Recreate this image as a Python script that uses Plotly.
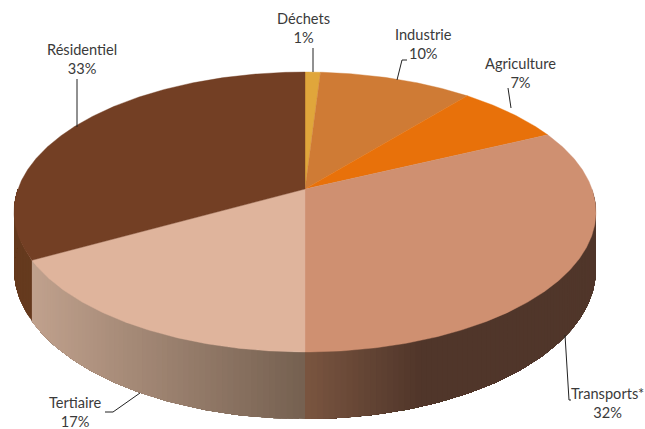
import math
import plotly.graph_objects as go

categories = ["Déchets", "Industrie", "Agriculture", "Transports*", "Tertiaire", "Résidentiel"]
shares = [1, 10, 7, 32, 17, 33]

face_colors = ["#E0A63B", "#CF7B35", "#E8710A", "#CF9071", "#DFB49C", "#733F24"]
# wall gradient per slice, expressed along the horizontal screen position
wall_stops = {
    "Transports*": [(305, (122, 85, 64)), (420, (80, 54, 42)), (600, (80, 54, 42))],
    "Tertiaire": [(33, (192, 161, 141)), (305, (117, 96, 80))],
    "Résidentiel": [(0, (101, 58, 30)), (305, (101, 58, 30))],
}
label_pos = {
    "Déchets": (303, 28), "Industrie": (423, 44), "Agriculture": (520, 73),
    "Transports*": (607, 403), "Tertiaire": (75, 412), "Résidentiel": (82, 59),
}
leaders = [
    ([313, 313], [48, 72]),
    ([407, 402, 397], [60, 60, 80]),
    ([508, 511], [88, 108]),
    ([565, 569, 571], [335, 400, 400]),
    ([105, 113, 140], [412, 412, 393]),
    ([77, 77], [79, 127]),
]

# projection of the tilted disc
CX, CY, A, B, K, DEPTH = 305, 189, 287, 136.2, 0.1643, 56


def project(theta_deg, lowered=False):
    t = math.radians(theta_deg)
    w = 1 + K * math.cos(t)
    x = CX + A * math.sin(t) / w
    y = CY - B * math.cos(t) / w
    if lowered:
        y += DEPTH / w
    return x, y


def wall_color(name, x):
    stops = wall_stops[name]
    if x <= stops[0][0]:
        c = stops[0][1]
    elif x >= stops[-1][0]:
        c = stops[-1][1]
    else:
        c = stops[0][1]
        for (x0, c0), (x1, c1) in zip(stops, stops[1:]):
            if x0 <= x <= x1:
                f = (x - x0) / (x1 - x0)
                c = tuple(c0[i] + (c1[i] - c0[i]) * f for i in range(3))
                break
    return "rgb(%d,%d,%d)" % tuple(round(v) for v in c)


fig = go.Figure()
total = sum(shares)
spans = []
acc = 0
for v in shares:
    spans.append((acc * 360 / total, (acc + v) * 360 / total))
    acc += v


def fill_trace(xs, ys, color, width=0.0):
    fig.add_trace(go.Scatter(
        x=xs, y=ys, mode="lines", fill="toself", fillcolor=color,
        line=dict(color=color, width=width), hoverinfo="skip", showlegend=False))


# walls (front half of the disc only); each band runs on to the end of its
# slice and the next one paints over it, so no seams show between bands
for name, (a0, a1) in zip(categories, spans):
    if name not in wall_stops:
        continue
    lo, hi = max(a0, 90), min(a1, 270)
    n = max(1, int((hi - lo) / 1.0))
    for i in range(n):
        ts = [lo + (hi - lo) * j / n for j in range(i, n + 1)]
        upper = [project(t) for t in ts]
        lower = [project(t, True) for t in ts]
        poly = upper + lower[::-1] + [upper[0]]
        mid = (upper[0][0] + upper[1][0]) / 2
        fill_trace([p[0] for p in poly], [p[1] for p in poly], wall_color(name, mid))

# top faces
for name, (a0, a1), color in zip(categories, spans, face_colors):
    n = max(4, int((a1 - a0) / 0.5))
    pts = [project(a0 + (a1 - a0) * i / n) for i in range(n + 1)]
    xs = [CX] + [p[0] for p in pts] + [CX]
    ys = [CY] + [p[1] for p in pts] + [CY]
    fill_trace(xs, ys, color, 0.4)

# leader lines
for xs, ys in leaders:
    fig.add_trace(go.Scatter(x=xs, y=ys, mode="lines", line=dict(color="#222222", width=1),
                             hoverinfo="skip", showlegend=False))

# labels
for name, v in zip(categories, shares):
    x, y = label_pos[name]
    fig.add_annotation(x=x, y=y, xref="x", yref="y", text=f"{name}<br>{v}%", showarrow=False,
                       font=dict(family="Lato", size=14.6, color="#3a3a3a"), align="center")

fig.update_xaxes(range=[0, 645], visible=False, fixedrange=True)
fig.update_yaxes(range=[429, 0], visible=False, fixedrange=True)
fig.update_layout(width=645, height=429, margin=dict(l=0, r=0, t=0, b=0),
                  paper_bgcolor="white", plot_bgcolor="white", showlegend=False)
fig.write_html("out.html", config={"displayModeBar": False},
               post_script="document.body.style.margin='0';document.body.style.overflow='hidden';")
